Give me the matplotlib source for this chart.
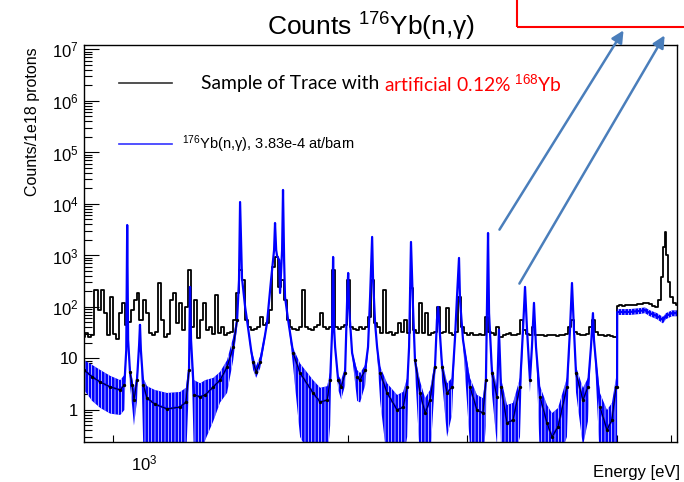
import numpy as np
import matplotlib
matplotlib.use("Agg")
import matplotlib.pyplot as plt
from matplotlib.ticker import FixedLocator, FuncFormatter, NullFormatter, LogLocator
from matplotlib.patches import Rectangle, FancyArrowPatch
from matplotlib.lines import Line2D

plt.rcParams['font.family'] = ['Liberation Sans', 'DejaVu Sans']
plt.rcParams['mathtext.fontset'] = 'custom'
plt.rcParams['mathtext.rm'] = 'Liberation Sans'
plt.rcParams['mathtext.it'] = 'Liberation Sans:italic'
plt.rcParams['mathtext.bf'] = 'Liberation Sans:bold'
plt.rcParams['hatch.linewidth'] = 0.5

# ---------------- data ----------------
# 176Yb(n,g) simulated counts: energy [eV], central value, upper / lower error edge
blue_E = [815, 838, 861, 891, 922, 935, 941, 944, 947, 953, 960, 966, 976, 983, 986, 989,
          997, 1010, 1037, 1081, 1130, 1153, 1165, 1169, 1173, 1185, 1210, 1231, 1265, 1295,
          1326, 1354, 1372, 1381, 1386, 1395, 1410, 1419, 1439, 1449, 1464, 1484, 1509, 1519,
          1540, 1556, 1561, 1567, 1572, 1583, 1588, 1599, 1604, 1610, 1615, 1632, 1660, 1700,
          1777, 1820, 1864, 1883, 1896, 1902, 1909, 1915, 1935, 1955, 1981, 1995, 2002, 2008,
          2029, 2064, 2085, 2121, 2142, 2157, 2172, 2179, 2194, 2209, 2232, 2286, 2365, 2413,
          2447, 2463, 2479, 2496, 2513, 2557, 2601, 2645, 2690, 2708, 2718, 2727, 2756, 2803,
          2850, 2880, 2899, 2919, 2929, 2959, 3030, 3103, 3167, 3199, 3210, 3222, 3233, 3266,
          3322, 3344, 3367, 3437, 3507, 3592, 3629, 3654, 3679, 3716, 3741, 3767, 3793, 3845,
          3938, 4005, 4088, 4214, 4258, 4287, 4316, 4346, 4450, 4526, 4573, 4604, 4620, 4715,
          4829, 4911, 4980, 4998, 5000, 5222, 5402, 5494, 5589, 5724, 5842, 5903, 6025, 6128]
blue_counts = [6.0, 4.4, 3.5, 2.8, 2.45, 3.1, 14.6, 3900, 23, 5.5, 3.1, 1.56, 3.8, 18, 45, 14.6,
               3.1, 1.7, 1.3, 1.05, 1.14, 1.43, 6.0, 245, 23, 1.96, 1.8, 1.96, 2.8, 3.8,
               6.8, 16.7, 56, 334, 10900, 366, 100, 56, 14.6, 8.5, 5.5, 8.5, 28.6, 49,
               334, 1280, 4270, 1280, 977, 818, 187, 1280, 18700, 818, 156, 56, 12.8, 5.2,
               2.14, 1.43, 1.56, 3.8, 36, 935, 36, 16.7, 3.8, 2.8, 5.2, 137, 457, 100,
               12.8, 4.4, 3.8, 6.0, 16.7, 156, 2290, 334, 49, 16.7, 5.2, 2.14, 1.0, 1.14,
               2.8, 16.7, 1830, 100, 9.3, 2.14, 0.87, 1.56, 6.8, 56, 100, 56, 6.8, 2.14,
               2.8, 26, 156, 895, 137, 23, 2.8, 1.0, 0.87, 3.8, 76, 2730, 76, 5.2,
               1.79, 36, 2.8, 0.56, 0.64, 2.8, 36, 245, 36, 3.8, 16.7, 120, 16.7, 1.79,
               0.56, 0.30, 0.47, 2.8, 36, 292, 36, 5.2, 1.56, 2.8, 16.7, 76, 23, 1.14,
               0.41, 0.64, 2.8, 2.8, 80, 80, 84, 87, 76, 67, 56, 67, 76, 76]
blue_upper = [9.3, 7.5, 6.0, 4.6, 3.8, 4.8, 18, 3900, 23, 7.2, 4.2, 2.45, 5.2, 18, 45, 14.6,
              4.2, 2.9, 2.45, 2.14, 2.24, 2.7, 9.3, 245, 23, 3.8, 3.3, 3.8, 4.2, 5.5,
              9.3, 26, 70, 334, 10900, 366, 100, 56, 16, 11.2, 7.2, 11.2, 33, 49,
              334, 1280, 4270, 1280, 977, 818, 187, 1280, 18700, 818, 156, 56, 16, 8.0,
              3.8, 2.7, 2.9, 5.5, 36, 935, 36, 16.7, 4.8, 3.8, 6.8, 137, 457, 100,
              14, 6.0, 5.2, 7.5, 18.3, 156, 2290, 334, 49, 18.3, 7.0, 3.3, 1.96, 2.24,
              4.2, 16.7, 1830, 100, 11.2, 3.6, 1.7, 2.45, 9.3, 56, 100, 56, 9.3, 3.3,
              4.2, 30, 156, 895, 137, 26, 4.2, 1.96, 1.7, 5.5, 76, 2730, 76, 7.0,
              2.9, 36, 4.2, 1.25, 1.37, 4.2, 36, 245, 36, 4.8, 16.7, 120, 16.7, 2.9,
              1.25, 0.87, 1.09, 4.2, 36, 292, 36, 7.0, 2.67, 4.2, 16.7, 76, 23, 2.14,
              1.0, 1.37, 4.2, 4.2, 91, 91, 95, 98, 86, 76, 64, 76, 86, 86]
blue_lower = [2.45, 1.5, 1.1, 0.85, 0.8, 1.0, 11.7, 3900, 23, 3.0, 1.2, 0.5, 1.5, 18, 45, 14.6,
              0.2, 0.1, 0.1, 0.1, 0.1, 0.1, 3.1, 245, 23, 0.1, 0.1, 0.26, 0.6, 1.4,
              2.14, 9.3, 41, 334, 10900, 366, 100, 56, 11.2, 6.0, 4.2, 6.5, 23, 49,
              334, 1280, 4270, 1280, 977, 818, 187, 1280, 18700, 818, 156, 56, 7.0, 0.3,
              0.1, 0.1, 0.1, 0.5, 36, 935, 36, 16.7, 2.5, 1.6, 3.0, 137, 457, 100,
              11, 1.5, 1.4, 3.0, 13, 156, 2290, 334, 49, 13, 1.5, 0.1, 0.1, 0.1,
              0.3, 16.7, 1830, 100, 6.0, 0.1, 0.1, 0.1, 3.8, 56, 100, 56, 3.5, 0.3,
              0.8, 20, 156, 895, 137, 19, 0.2, 0.1, 0.1, 0.5, 76, 2730, 76, 2.0,
              0.2, 36, 0.2, 0.1, 0.1, 0.3, 36, 245, 36, 2.2, 16.7, 120, 16.7, 0.1,
              0.1, 0.1, 0.1, 0.3, 36, 292, 36, 2.2, 0.2, 0.6, 16.7, 76, 23, 0.1,
              0.1, 0.1, 0.1, 0.1, 70, 70, 73, 76, 66, 58, 48, 58, 66, 66]

# Sample of trace (black histogram): bin energy [eV], counts
black_E = [815, 823, 832, 840, 849, 858, 867, 876, 885, 894, 903, 912, 922, 931, 941, 950,
           960, 970, 979, 989, 1000, 1010, 1020, 1031, 1042, 1052, 1063, 1074, 1085, 1096, 1107, 1119,
           1130, 1142, 1153, 1165, 1177, 1189, 1202, 1214, 1227, 1239, 1252, 1265, 1278, 1291, 1304, 1317,
           1331, 1344, 1358, 1372, 1386, 1400, 1415, 1429, 1444, 1459, 1474, 1489, 1504, 1519, 1535, 1551,
           1567, 1583, 1599, 1615, 1632, 1648, 1665, 1683, 1700, 1717, 1735, 1753, 1771, 1789, 1807, 1826,
           1844, 1864, 1883, 1902, 1921, 1941, 1961, 1981, 2002, 2022, 2043, 2064, 2085, 2106, 2128, 2150,
           2172, 2194, 2217, 2240, 2263, 2286, 2309, 2333, 2357, 2381, 2405, 2430, 2455, 2480, 2505, 2531,
           2557, 2583, 2610, 2636, 2663, 2691, 2718, 2746, 2774, 2803, 2831, 2860, 2890, 2919, 2949, 2980,
           3010, 3041, 3072, 3104, 3135, 3167, 3200, 3233, 3266, 3299, 3333, 3367, 3402, 3437, 3472, 3507,
           3543, 3580, 3616, 3653, 3691, 3729, 3767, 3805, 3845, 3884, 3924, 3964, 4005, 4046, 4087, 4129,
           4171, 4214, 4258, 4301, 4345, 4390, 4435, 4480, 4526, 4573, 4620, 4667, 4715, 4763, 4812, 4861,
           4911, 4962, 4995, 5005, 5064, 5116, 5168, 5221, 5275, 5329, 5384, 5439, 5495, 5551, 5608, 5665,
           5723, 5782, 5841, 5861, 5901, 5921, 5962, 6023, 6085, 6128]
black_counts = [26, 31, 26, 29, 214, 87, 214, 76, 28, 156, 30, 24, 76, 120, 45, 50,
                87, 137, 187, 56, 137, 76, 31, 28, 33, 292, 56, 26, 30, 137, 185, 49,
                120, 36, 100, 523, 41, 137, 25, 56, 120, 35, 41, 30, 170, 31, 41, 28,
                31, 33, 56, 187, 523, 334, 56, 41, 36, 38, 41, 64, 45, 49, 87, 600,
                935, 245, 334, 137, 56, 41, 38, 36, 40, 214, 41, 38, 36, 41, 45, 76,
                41, 38, 41, 523, 41, 38, 41, 45, 334, 41, 38, 36, 40, 38, 41, 64,
                334, 49, 41, 31, 214, 31, 33, 29, 31, 49, 33, 56, 31, 230, 36, 31,
                120, 31, 76, 29, 31, 33, 100, 31, 33, 95, 31, 29, 33, 156, 41, 31,
                29, 31, 28, 29, 30, 28, 64, 33, 31, 28, 41, 26, 28, 30, 31, 28,
                29, 30, 56, 36, 30, 29, 41, 29, 28, 29, 27, 29, 28, 29, 27, 28,
                29, 30, 41, 56, 33, 30, 28, 29, 30, 41, 56, 33, 29, 28, 27, 28,
                27, 26, 26, 105, 107, 105, 108, 110, 108, 110, 112, 114, 118, 120, 115, 105,
                100, 137, 380, 1450, 2900, 1000, 300, 156, 120, 110]

# ---------------- figure ----------------
W, H = 684, 482
fig = plt.figure(figsize=(W / 100, H / 100), dpi=100)
ax = fig.add_axes([84 / W, 1 - 442 / H, (677 - 84) / W, (442 - 45) / H])
ax.set_xscale('log')
ax.set_yscale('log')

ax.plot(black_E, black_counts, color='black', lw=1.3, drawstyle='steps-mid', zorder=2)
ax.fill_between(blue_E, blue_lower, blue_upper, facecolor='#0000ff', edgecolor='white',
                hatch='|||||', lw=0, zorder=3)
ax.plot(blue_E, blue_counts, color='#0000ff', lw=1.6, zorder=4)
bc = np.array(blue_counts, float)
wide = (np.array(blue_upper) / np.array(blue_lower)) > 1.6
ax.plot(blue_E, np.where(wide, bc, np.nan), color='black', lw=0.6, marker='o',
        ms=1.4, zorder=5)

ax.set_xlim(815, 6128)
ax.set_ylim(0.239, 1.22e7)

ax.xaxis.set_major_locator(FixedLocator([1000]))
ax.xaxis.set_minor_locator(FixedLocator([900, 2000, 3000, 4000, 5000, 6000]))
ax.xaxis.set_major_formatter(FuncFormatter(lambda v, p: r'$10^{3}$'))
ax.xaxis.set_minor_formatter(NullFormatter())

def yfmt(v, p):
    e = int(round(np.log10(v)))
    if e == 0:
        return '1'
    if e == 1:
        return '10'
    return r'$10^{%d}$' % e

ax.yaxis.set_major_locator(FixedLocator([1, 10, 1e2, 1e3, 1e4, 1e5, 1e6, 1e7]))
ax.yaxis.set_minor_locator(LogLocator(base=10, subs=np.arange(2, 10), numticks=20))
ax.yaxis.set_major_formatter(FuncFormatter(yfmt))
ax.yaxis.set_minor_formatter(NullFormatter())

ax.tick_params(axis='both', which='both', direction='in', top=False, right=False,
               labelsize=12, width=0.8, color='black')
ax.tick_params(axis='y', which='major', length=11, pad=4)
ax.tick_params(axis='y', which='minor', length=5.5)
ax.tick_params(axis='x', which='both', length=5, pad=8)
for s in ax.spines.values():
    s.set_linewidth(1.0)
    s.set_zorder(6)

# titles
fig.text(371 / W, 1 - 27 / H, r'Counts $^{176}$Yb(n,γ)', fontsize=19,
         ha='center', va='center')
fig.text(33 / W, 1 - 122 / H, 'Counts/1e18 protons', fontsize=11.5, rotation=90,
         ha='center', va='center')
fig.text(680 / W, 1 - 472 / H, 'Energy [eV]', fontsize=12, ha='right', va='center')

# legend
fig.add_artist(Line2D([119 / W, 172 / W], [1 - 83 / H, 1 - 83 / H], color='#333333', lw=1.2))
fig.add_artist(Line2D([119 / W, 172 / W], [1 - 144 / H, 1 - 144 / H], color='#3333ff', lw=1.2))
fig.text(182 / W, 1 - 144 / H, r'$^{176}$Yb(n,γ), 3.83e-4 at/barn', fontsize=10.5,
         ha='left', va='center')
t1 = fig.text(201 / W, 1 - 83 / H, 'Sample of Trace with ', fontsize=13.9,
              family=['Lato', 'DejaVu Sans'], ha='left', va='center')
fig.canvas.draw()
bb = t1.get_window_extent()
fig.text(bb.x1 / W, 1 - 83 / H, r'artificial 0.12% $^{168}$Yb', fontsize=13.9,
         family=['Lato', 'DejaVu Sans'], color='red', ha='left', va='center')

# annotation box and arrows
fig.add_artist(Rectangle((517 / W, 1 - 27 / H), 0.5, 0.5, transform=fig.transFigure,
                         fill=False, edgecolor='red', lw=1.5, clip_on=False))
acol = '#4a7ebb'
for (x0, y0, x1, y1) in [(498, 232, 625, 28), (518, 286, 666, 33)]:
    fig.add_artist(FancyArrowPatch((x0 / W, 1 - y0 / H), (x1 / W, 1 - y1 / H),
                                   transform=fig.transFigure, arrowstyle='-|>',
                                   mutation_scale=18, color=acol, lw=1.8))

fig.savefig('out.png', dpi=100)
